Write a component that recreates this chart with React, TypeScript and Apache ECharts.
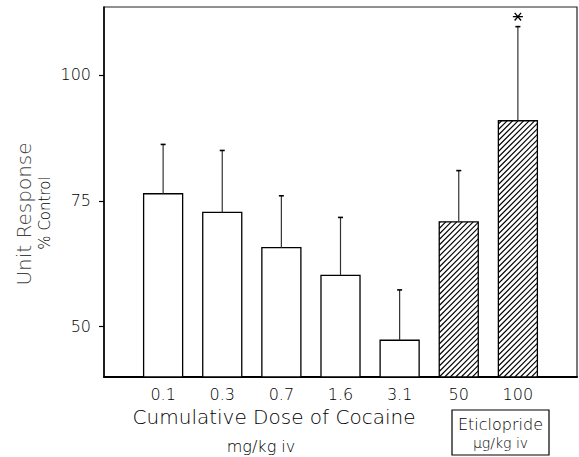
import React, { useEffect, useRef } from "react";
import * as echarts from "echarts";

const doses = ["0.1", "0.3", "0.7", "1.6", "3.1", "50", "100"];
const positions = [1, 2, 3, 4, 5, 6, 7];
const means = [76.4, 72.7, 65.7, 60.2, 47.3, 70.8, 90.9];
const errorTops = [86.2, 85.0, 76.0, 71.7, 57.3, 81.0, 109.6];
const hatched = [0, 0, 0, 0, 0, 1, 1];
const significant = [0, 0, 0, 0, 0, 0, 1];
const yTicks = [50, 75, 100];

const Y_MIN = 40;
const Y_MAX = 113.5;
const FONT = "'DejaVu Sans', sans-serif";
const WEIGHT = 300;

function renderBar(params: any, api: any) {
  const x = api.value(0);
  const v = api.value(1);
  const e = api.value(2);
  const h = api.value(3);
  const s = api.value(4);
  const base = api.coord([x, Y_MIN]);
  const top = api.coord([x, v]);
  const errPt = api.coord([x, e]);
  const w = api.size([1, 0])[0] * 0.66;
  const x0 = top[0] - w / 2;
  const x1 = top[0] + w / 2;
  const y0 = top[1];
  const y1 = base[1];
  const children: any[] = [];
  children.push({
    type: "rect",
    shape: { x: x0, y: y0, width: w, height: y1 - y0 },
    style: { fill: "#fff", stroke: null },
  });
  if (h) {
    const step = 5.5;
    const cStart = x0 + y0;
    const cEnd = x1 + y1;
    for (let c = x0 + y1 - step * Math.ceil((y1 - y0) / step); c <= cEnd; c += step) {
      if (c < cStart) continue;
      const xa = Math.max(x0, c - y1);
      const xb = Math.min(x1, c - y0);
      if (xb - xa > 0.3) {
        children.push({
          type: "line",
          shape: { x1: xa, y1: c - xa, x2: xb, y2: c - xb },
          style: { stroke: "#000", lineWidth: 1.1 },
        });
      }
    }
  }
  children.push({
    type: "rect",
    shape: { x: x0, y: y0, width: w, height: y1 - y0 },
    style: { fill: "none", stroke: "#000", lineWidth: 1.3 },
  });
  children.push({
    type: "line",
    shape: { x1: top[0], y1: y0, x2: top[0], y2: errPt[1] },
    style: { stroke: "#333", lineWidth: 1.2 },
  });
  children.push({
    type: "line",
    shape: { x1: top[0] - 2.5, y1: errPt[1], x2: top[0] + 2.5, y2: errPt[1] },
    style: { stroke: "#000", lineWidth: 1.6 },
  });
  if (s) {
    const cx = top[0];
    const cy = errPt[1] - 10;
    const r = 5;
    const angs = [0, (50 * Math.PI) / 180, (130 * Math.PI) / 180];
    angs.forEach((a) => {
      children.push({
        type: "line",
        shape: {
          x1: cx - r * Math.cos(a),
          y1: cy - r * Math.sin(a),
          x2: cx + r * Math.cos(a),
          y2: cy + r * Math.sin(a),
        },
        style: { stroke: "#000", lineWidth: 1.3 },
      });
    });
  }
  return { type: "group", children };
}

function label(text: string, x: number, y: number, fontSize: number, fill: string, rotation = 0) {
  return {
    type: "text",
    x,
    y,
    rotation,
    style: {
      text,
      fontSize,
      fontFamily: FONT,
      fontWeight: WEIGHT,
      fill,
      align: "center",
      verticalAlign: "middle",
    },
  };
}

export default function App() {
  const ref = useRef<HTMLDivElement>(null);
  useEffect(() => {
    if (!ref.current) return;
    const chart = echarts.init(ref.current, null, { renderer: "svg" });
    const data = positions.map((p, i) => [p, means[i], errorTops[i], hatched[i], significant[i]]);
    chart.setOption({
      animation: false,
      backgroundColor: "#fff",
      textStyle: { fontFamily: FONT },
      grid: {
        left: 104,
        right: 2,
        top: 7,
        bottom: 80,
        show: true,
        borderColor: "#222",
        borderWidth: 1.2,
        containLabel: false,
        outerBoundsMode: "none",
      },
      xAxis: {
        type: "value",
        min: 0,
        max: 8,
        splitLine: { show: false },
        axisLine: { show: true, lineStyle: { color: "#000", width: 2 } },
        axisTick: { show: false },
        axisLabel: {
          customValues: positions,
          formatter: (val: number) => doses[positions.indexOf(val)] ?? "",
          fontSize: 16,
          fontWeight: WEIGHT,
          color: "#000",
          fontFamily: FONT,
          margin: 9,
        },
      },
      yAxis: {
        type: "value",
        min: Y_MIN,
        max: Y_MAX,
        splitLine: { show: false },
        axisLine: { show: true, lineStyle: { color: "#000", width: 1.5 } },
        axisTick: { show: true, customValues: yTicks, length: 5, lineStyle: { color: "#000", width: 1.2 } },
        axisLabel: {
          customValues: yTicks,
          fontSize: 16,
          fontWeight: WEIGHT,
          color: "#000",
          fontFamily: FONT,
          margin: 13,
        },
      },
      series: [
        {
          type: "custom",
          renderItem: renderBar,
          data,
          clip: false,
          encode: { x: 0, y: [1, 2] },
        },
      ],
      graphic: [
        label("Unit Response", 24, 214, 20, "#444", Math.PI / 2),
        label("% Control", 45, 213, 15, "#000", Math.PI / 2),
        label("Cumulative Dose of Cocaine", 274, 417, 20, "#000"),
        label("mg/kg iv", 261, 446, 16, "#000"),
        {
          type: "rect",
          shape: { x: 452, y: 410, width: 97, height: 45 },
          style: { fill: "none", stroke: "#000", lineWidth: 1.2 },
        },
        label("Eticlopride", 500.5, 424, 16, "#000"),
        label("μg/kg iv", 500.5, 443, 14, "#000"),
      ],
    });
    return () => chart.dispose();
  }, []);
  return (
    <div
      ref={ref}
      style={{ position: "absolute", left: 0, top: 0, width: 579, height: 457 }}
    />
  );
}
